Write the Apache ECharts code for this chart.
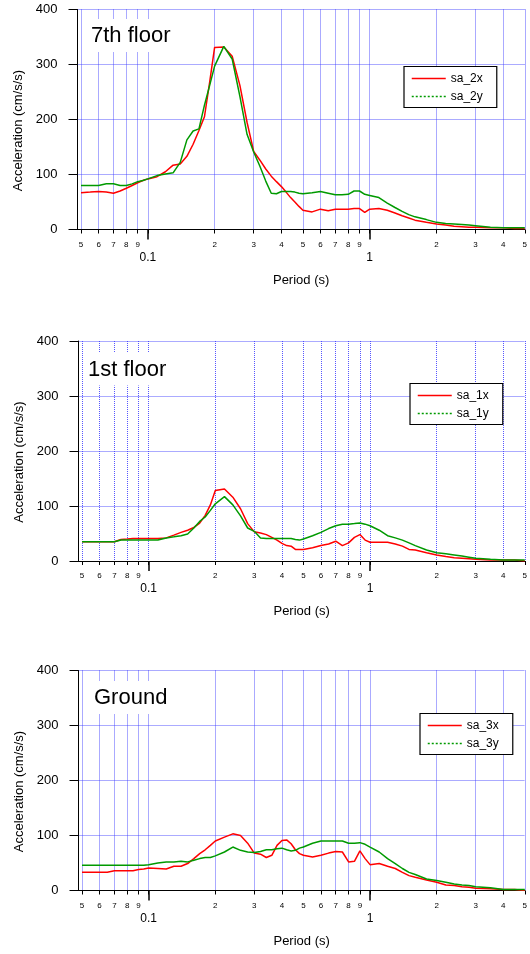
<!DOCTYPE html>
<html><head><meta charset="utf-8">
<script src="https://cdn.jsdelivr.net/npm/echarts@6/dist/echarts.min.js"></script>
<style>html,body{margin:0;padding:0;background:#fff}#c{width:530px;height:954px}</style>
</head><body><div id="c"></div>
<script>
// ---- data (period in s, spectral acceleration in cm/s/s) ----
const period = [0.05,0.055,0.06,0.065,0.07,0.075,0.08,0.085,0.09,0.095,
  0.1,0.11,0.12,0.13,0.14,0.15,0.16,0.17,0.18,0.19,
  0.2,0.22,0.24,0.26,0.28,0.3,0.32,0.34,0.36,0.38,
  0.4,0.42,0.44,0.46,0.48,0.5,0.55,0.6,0.65,0.7,
  0.75,0.8,0.85,0.9,0.95,1.0,1.1,1.2,1.3,1.4,
  1.5,1.6,1.8,2.0,2.2,2.4,2.6,2.8,3.0,3.5,
  4.0,4.5,5.0];

const sa_2x = [67,68,69,68,66,70,75,80,85,89,
  92,96,105,117,119,133,155,180,205,268,
  331,332,315,262,195,142,126,110,97,87,
  78,68,58,50,42,35,32,37,34,37,
  37,37,38,38,31,37,38,35,30,25,
  21,17,13,10,8,6,5,4,4,3,
  3,2,2];
const sa_2y = [80,80,80,83,83,80,80,83,87,89,
  92,98,101,103,122,163,179,183,226,262,
  297,333,310,242,173,141,115,88,66,65,
  69,69,69,68,66,65,67,69,66,63,
  63,64,70,70,64,62,58,48,40,33,
  27,23,18,13,11,10,9,8,7,4,
  3,3,3];

const sa_1x = [35,35,35,35,35,39,40,41,41,41,
  41,41,42,47,52,56,61,69,83,102,
  128,131,116,95,68,53,51,48,43,38,
  32,28,27,21,21,21,24,28,31,36,
  28,33,43,48,38,34,34,34,31,27,
  21,20,15,11,8,6,5,4,3,2,
  2,2,0];
const sa_1y = [35,35,35,35,35,38,38,38,38,38,
  38,38,42,44,46,49,60,72,80,92,
  104,117,102,82,60,54,42,41,41,41,
  41,41,41,39,38,40,46,52,59,64,
  67,67,68,69,67,64,56,46,42,38,
  33,28,20,15,13,11,9,7,5,3,
  2,2,2];

const sa_3x = [33,33,33,33,36,36,36,36,38,39,
  41,40,39,44,44,49,58,67,74,82,
  90,97,103,100,86,68,66,60,64,82,
  91,92,85,74,67,64,61,64,68,71,
  70,52,53,72,58,47,49,44,40,33,
  27,24,19,15,10,9,7,6,4,3,
  2,2,0];
const sa_3y = [46,46,46,46,46,46,46,46,46,46,
  47,50,52,52,53,52,55,58,60,60,
  63,70,79,73,70,69,71,74,74,76,
  77,74,72,73,77,79,86,90,90,90,
  90,86,86,87,84,79,70,58,49,40,
  33,29,21,18,15,12,10,9,7,5,
  2,2,2];

const panelTitles = ['7th floor', '1st floor', 'Ground'];
const seriesNames = [['sa_2x','sa_2y'], ['sa_1x','sa_1y'], ['sa_3x','sa_3y']];
const seriesValues = [[sa_2x, sa_2y], [sa_1x, sa_1y], [sa_3x, sa_3y]];

const minorTickValues = [0.05,0.06,0.07,0.08,0.09,0.1,0.2,0.3,0.4,0.5,0.6,0.7,0.8,0.9,1,2,3,4,5];
const minorLabelValues = [0.05,0.06,0.07,0.08,0.09,0.2,0.3,0.4,0.5,0.6,0.7,0.8,0.9,2,3,4,5];
const majorTickValues = [0.1, 1];
const yMin = 0, yMax = 400, yStep = 100;
const xMin = 0.0482, xMax = 5.001;

// ---- layout / style ----
const FONT = 'Liberation Sans, Arial, sans-serif';
const layout = [
  {left: 77.5, top: 9.5,  titleLeft: 87, titleTop: 19,  titleH: 31, legendLeft: 404, legendTop: 66.5},
  {left: 78.5, top: 341,  titleLeft: 84, titleTop: 352.5, titleH: 31, legendLeft: 410, legendTop: 383.5},
  {left: 78.5, top: 670.5, titleLeft: 90, titleTop: 681, titleH: 31, legendLeft: 420, legendTop: 713.5}
];
const GRID_W = 451, GRID_H = 220;
const colors = ['#ff0000', '#009a00'];
const gridLineStyle = {color: '#3a3aff', type: [1, 1], width: 1, opacity: 0.85};

function leadDigit(v) {
  const e = Math.floor(Math.log10(v) + 1e-9);
  return String(Math.round(v / Math.pow(10, e)));
}

const option = {
  animation: false,
  backgroundColor: '#fff',
  textStyle: {fontFamily: FONT, color: '#000'},
  grid: [], xAxis: [], yAxis: [], series: [], legend: [], title: []
};

layout.forEach((L, i) => {
  option.grid.push({left: L.left, top: L.top, width: GRID_W, height: GRID_H, containLabel: false});
  // minor ticks, small digit labels, all vertical grid lines
  option.xAxis.push({
    type: 'log', logBase: 10, gridIndex: i, min: xMin, max: xMax, position: 'bottom',
    axisLine: {show: true, onZero: false, lineStyle: {color: '#000', width: 1}},
    axisTick: {show: true, customValues: minorTickValues, length: 4, lineStyle: {color: '#000', width: 1}},
    axisLabel: {show: true, customValues: minorLabelValues, formatter: leadDigit,
      fontSize: 8, color: '#000', margin: 11, fontFamily: FONT},
    splitLine: {show: true, lineStyle: gridLineStyle},
    minorTick: {show: false}, minorSplitLine: {show: false}
  });
  // decade ticks and labels, axis title
  option.xAxis.push({
    type: 'log', logBase: 10, gridIndex: i, min: xMin, max: xMax, position: 'bottom',
    axisLine: {show: false},
    axisTick: {show: true, customValues: majorTickValues, length: 10, lineStyle: {color: '#000', width: 1.5}},
    axisLabel: {show: true, customValues: majorTickValues, formatter: v => (v < 0.5 ? '0.1' : '1'),
      fontSize: 12, color: '#000', margin: 22, fontFamily: FONT},
    splitLine: {show: false},
    name: 'Period (s)', nameLocation: 'middle', nameGap: 44,
    nameTextStyle: {fontSize: 13, color: '#000', fontFamily: FONT}
  });
  option.yAxis.push({
    type: 'value', gridIndex: i, min: yMin, max: yMax, interval: yStep,
    axisLine: {show: true, lineStyle: {color: '#000', width: 1}},
    axisTick: {show: true, length: 9, lineStyle: {color: '#000', width: 1}},
    axisLabel: {fontSize: 13, color: '#000', margin: 20, fontFamily: FONT},
    splitLine: {show: true, lineStyle: gridLineStyle},
    name: 'Acceleration (cm/s/s)', nameLocation: 'middle', nameGap: 53, nameRotate: 90,
    nameTextStyle: {fontSize: 13, color: '#000', fontFamily: FONT, padding: [0, 22, 0, 0]}
  });
  seriesNames[i].forEach((nm, k) => {
    const vals = seriesValues[i][k];
    option.series.push({
      type: 'line', name: nm, xAxisIndex: 2 * i, yAxisIndex: i,
      data: period.map((p, j) => [p, vals[j]]),
      symbol: 'none', smooth: false, z: 3 + k,
      lineStyle: {color: colors[k], width: 1.5},
      itemStyle: {color: colors[k]}
    });
  });
  option.legend.push({
    orient: 'vertical', left: L.legendLeft, top: L.legendTop,
    data: [{name: seriesNames[i][0]}, {name: seriesNames[i][1], lineStyle: {type: [2, 2]}}],
    itemWidth: 34, itemHeight: 12, itemGap: 6,
    backgroundColor: '#fff', borderColor: '#000', borderWidth: 1.2,
    padding: [6, 14, 5, 7], selectedMode: false,
    itemStyle: {opacity: 0},
    lineStyle: {width: 1.5},
    textStyle: {fontSize: 12, color: '#000', fontFamily: FONT}
  });
  option.title.push({
    text: panelTitles[i], left: L.titleLeft, top: L.titleTop,
    padding: [5, 4, 4, 4], backgroundColor: '#fff',
    textStyle: {fontSize: 22, fontWeight: 'normal', color: '#000', fontFamily: FONT, lineHeight: 24}
  });
});

const chart = echarts.init(document.getElementById('c'), null, {renderer: 'canvas'});
chart.setOption(option);
</script>
</body></html>
